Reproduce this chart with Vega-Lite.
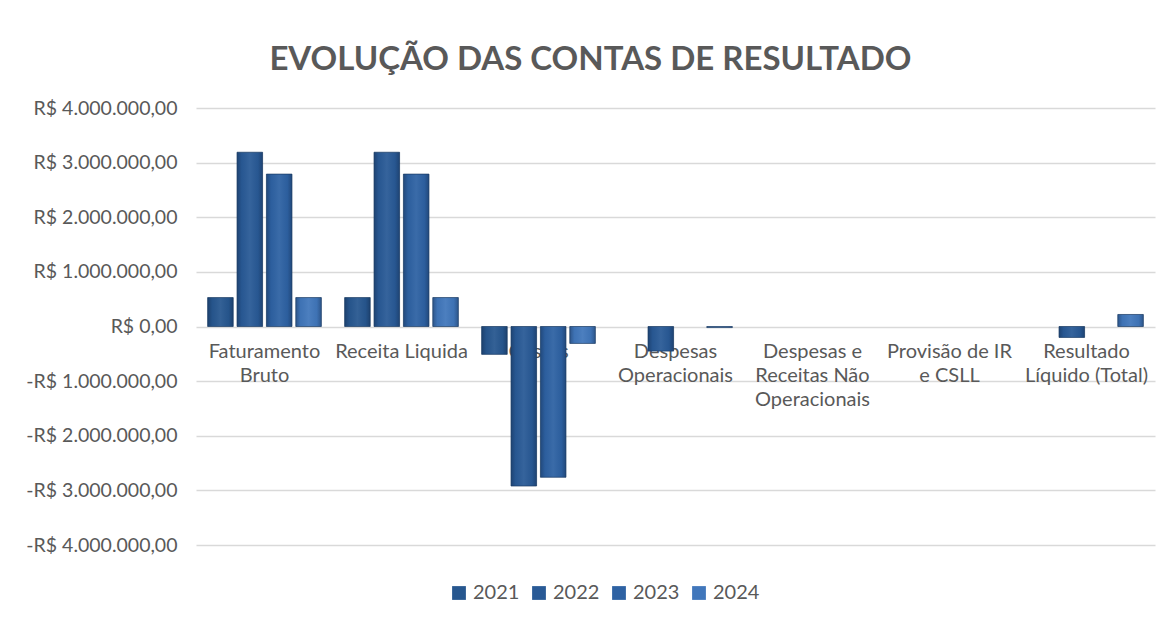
{
  "$schema": "https://vega.github.io/schema/vega-lite/v6.json",
  "width": 959,
  "height": 437,
  "autosize": "none",
  "padding": {"left": 196, "top": 108, "right": 16, "bottom": 75},
  "config": {
    "locale": {"number": {"decimal": ",", "thousands": ".", "grouping": [3], "currency": ["R$ ", ""], "minus": "-"}},
    "view": {"stroke": null},
    "font": "Lato"
  },
  "title": {
    "text": "EVOLUÇÃO DAS CONTAS DE RESULTADO",
    "font": "Lato",
    "fontSize": 33,
    "fontWeight": "bold",
    "color": "#595959",
    "anchor": "middle",
    "frame": "bounds",
    "baseline": "alphabetic",
    "offset": -5
  },
  "data": {
    "values": [
      {"conta": "Faturamento Bruto", "ano": "2021", "valor": 530000},
      {"conta": "Faturamento Bruto", "ano": "2022", "valor": 3190000},
      {"conta": "Faturamento Bruto", "ano": "2023", "valor": 2790000},
      {"conta": "Faturamento Bruto", "ano": "2024", "valor": 530000},
      {"conta": "Receita Liquida", "ano": "2021", "valor": 530000},
      {"conta": "Receita Liquida", "ano": "2022", "valor": 3190000},
      {"conta": "Receita Liquida", "ano": "2023", "valor": 2790000},
      {"conta": "Receita Liquida", "ano": "2024", "valor": 530000},
      {"conta": "Custos", "ano": "2021", "valor": -510000},
      {"conta": "Custos", "ano": "2022", "valor": -2920000},
      {"conta": "Custos", "ano": "2023", "valor": -2760000},
      {"conta": "Custos", "ano": "2024", "valor": -310000},
      {"conta": "Despesas Operacionais", "ano": "2021", "valor": 0},
      {"conta": "Despesas Operacionais", "ano": "2022", "valor": -450000},
      {"conta": "Despesas Operacionais", "ano": "2023", "valor": 0},
      {"conta": "Despesas Operacionais", "ano": "2024", "valor": -20000},
      {"conta": "Despesas e Receitas Não Operacionais", "ano": "2021", "valor": 0},
      {"conta": "Despesas e Receitas Não Operacionais", "ano": "2022", "valor": 0},
      {"conta": "Despesas e Receitas Não Operacionais", "ano": "2023", "valor": 0},
      {"conta": "Despesas e Receitas Não Operacionais", "ano": "2024", "valor": 0},
      {"conta": "Provisão de IR e CSLL", "ano": "2021", "valor": 0},
      {"conta": "Provisão de IR e CSLL", "ano": "2022", "valor": 0},
      {"conta": "Provisão de IR e CSLL", "ano": "2023", "valor": 0},
      {"conta": "Provisão de IR e CSLL", "ano": "2024", "valor": 0},
      {"conta": "Resultado Líquido (Total)", "ano": "2021", "valor": 0},
      {"conta": "Resultado Líquido (Total)", "ano": "2022", "valor": -200000},
      {"conta": "Resultado Líquido (Total)", "ano": "2023", "valor": 0},
      {"conta": "Resultado Líquido (Total)", "ano": "2024", "valor": 220000}
    ]
  },
  "encoding": {
    "x": {
      "field": "conta",
      "type": "nominal",
      "sort": null,
      "scale": {"paddingInner": 0.17, "paddingOuter": 0.085},
      "axis": {
        "title": null,
        "orient": "bottom",
        "offset": -218,
        "domain": false,
        "ticks": false,
        "labelAngle": 0,
        "labelFont": "Lato",
        "labelFontSize": 20,
        "labelColor": "#595959",
        "labelPadding": 14,
        "labelBaseline": "top",
        "labelLineHeight": 24,
        "labelLimit": 220,
        "labelExpr": "datum.label == 'Faturamento Bruto' ? ['Faturamento', 'Bruto'] : datum.label == 'Despesas Operacionais' ? ['Despesas', 'Operacionais'] : datum.label == 'Despesas e Receitas Não Operacionais' ? ['Despesas e', 'Receitas Não', 'Operacionais'] : datum.label == 'Provisão de IR e CSLL' ? ['Provisão de IR', 'e CSLL'] : datum.label == 'Resultado Líquido (Total)' ? ['Resultado', 'Líquido (Total)'] : datum.label"
      }
    },
    "xOffset": {"field": "ano", "type": "nominal", "scale": {"paddingInner": 0.13}},
    "y": {
      "field": "valor",
      "type": "quantitative",
      "scale": {"domain": [-4000000, 4000000]},
      "axis": {
        "title": null,
        "format": "$,.2f",
        "values": [-4000000, -3000000, -2000000, -1000000, 0, 1000000, 2000000, 3000000, 4000000],
        "domain": false,
        "ticks": false,
        "gridColor": "#d9d9d9",
        "gridWidth": 1.5,
        "labelFont": "Lato",
        "labelFontSize": 19.5,
        "labelColor": "#595959",
        "labelPadding": 19
      }
    }
  },
  "layer": [
    {
      "mark": {"type": "bar"},
      "encoding": {
        "color": {
          "field": "ano",
          "type": "nominal",
          "title": null,
          "scale": {"domain": ["2021", "2022", "2023", "2024"], "range": ["#27578f", "#295a96", "#2e62a3", "#4177bb"]},
          "legend": {
            "orient": "none",
            "direction": "horizontal",
            "legendX": 253,
            "legendY": 475,
            "symbolType": "square",
            "symbolSize": 190,
            "symbolStrokeWidth": 0,
            "labelFont": "Lato",
            "labelFontSize": 20,
            "labelColor": "#595959",
            "labelOffset": 4,
            "columnPadding": 9
          }
        }
      }
    },
    {
      "transform": [{"filter": "datum.valor != 0"}],
      "mark": {
        "type": "bar",
        "stroke": "#1a3a62",
        "strokeWidth": 1,
        "strokeOpacity": 0.7,
        "fill": {
          "gradient": "linear",
          "x1": 0, "y1": 0, "x2": 1, "y2": 0,
          "stops": [
            {"offset": 0, "color": "rgba(10,25,50,0.35)"},
            {"offset": 0.18, "color": "rgba(10,25,50,0.05)"},
            {"offset": 0.5, "color": "rgba(255,255,255,0.06)"},
            {"offset": 0.82, "color": "rgba(10,25,50,0.05)"},
            {"offset": 1, "color": "rgba(10,25,50,0.35)"}
          ]
        }
      },
      "encoding": {}
    }
  ]
}
